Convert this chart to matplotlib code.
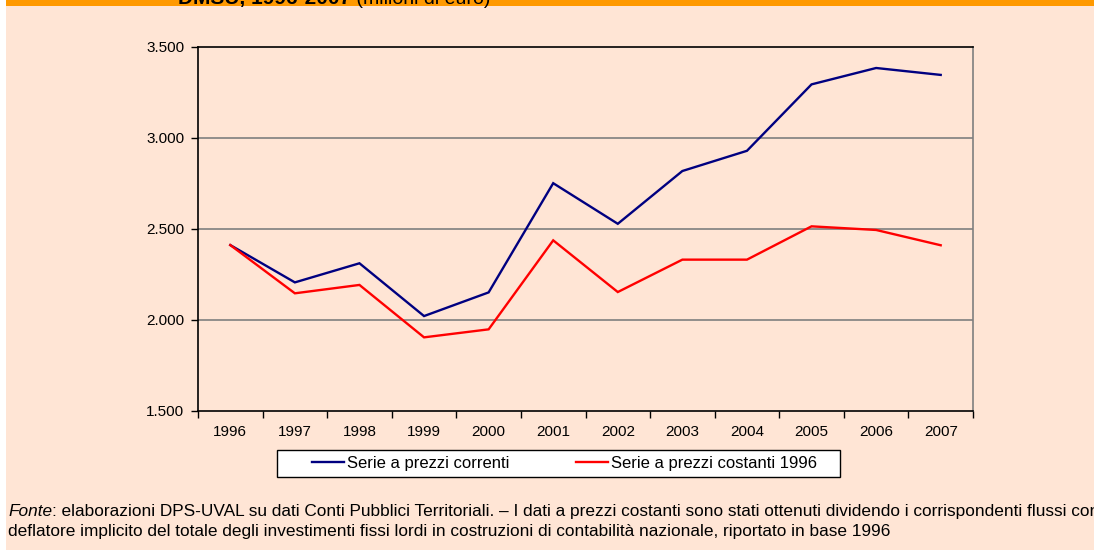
import matplotlib
matplotlib.use("Agg")
import matplotlib.pyplot as plt
from matplotlib.patches import Rectangle
from matplotlib.lines import Line2D

years = ["1996", "1997", "1998", "1999", "2000", "2001", "2002", "2003", "2004", "2005", "2006", "2007"]
correnti = [2410, 2205, 2310, 2020, 2150, 2750, 2527, 2817, 2928, 3293, 3383, 3345]
costanti = [2410, 2145, 2191, 1903, 1947, 2436, 2152, 2330, 2330, 2513, 2493, 2409]
yticks = [1500, 2000, 2500, 3000, 3500]
ytick_labels = ["1.500", "2.000", "2.500", "3.000", "3.500"]
series_labels = ["Serie a prezzi correnti", "Serie a prezzi costanti 1996"]

BG = "#FFE5D5"
ORANGE = "#FF9900"

plt.rcParams['font.family'] = ['Liberation Sans', 'DejaVu Sans']

fig = plt.figure(figsize=(10.94, 5.5), dpi=100)
fig.patch.set_facecolor("white")

W, H = 1094.0, 550.0
fig.patches.append(Rectangle((6 / W, 0), 1 - 6 / W, 1, transform=fig.transFigure,
                             facecolor=BG, edgecolor="none", zorder=-10))
fig.patches.append(Rectangle((6 / W, 1 - 6 / H), 1 - 6 / W, 6 / H, transform=fig.transFigure,
                             facecolor=ORANGE, edgecolor="none", zorder=-9))

ax = fig.add_axes([198 / W, 1 - 410.7 / H, (973 - 198) / W, (410.7 - 46.7) / H])
ax.set_facecolor(BG)

# clipped title at the top
t0 = fig.text(178 / W, 1 - 4 / H, "DMSU, 1996-2007", fontsize=15, fontweight="bold",
              va="baseline", ha="left", color="black")
ax.annotate(" (milioni di euro)", xy=(1, 0), xycoords=t0, xytext=(0, 0),
            textcoords="offset points", fontsize=14, va="bottom", ha="left",
            color="black", annotation_clip=False)

x = list(range(len(years)))
ax.plot(x, correnti, color="#000080", lw=1.7, zorder=3, solid_joinstyle="miter")
ax.plot(x, costanti, color="#FF0000", lw=1.7, zorder=3, solid_joinstyle="miter")

ax.set_xlim(-0.5, len(years) - 0.5)
ax.set_ylim(1500, 3500)
ax.set_yticks(yticks)
ax.set_yticklabels(ytick_labels, fontsize=11)
ax.set_xticks(x)
ax.set_xticklabels(years, fontsize=11)
ax.tick_params(axis="x", which="major", length=0, pad=10)
ax.set_xticks([i - 0.5 for i in range(len(years) + 1)], minor=True)
ax.tick_params(axis="x", which="minor", length=5, width=1, color="black", direction="out")
ax.tick_params(axis="y", length=5, width=1, color="black", direction="out", pad=5)

for yv in yticks[1:-1]:
    ax.axhline(yv, color="#7F7F7F", lw=1.2, zorder=1)

ax.spines["left"].set_color("black")
ax.spines["bottom"].set_color("black")
ax.spines["top"].set_color("black")
ax.spines["right"].set_color("#7F7F7F")
for s in ax.spines.values():
    s.set_linewidth(1.2)

# legend box
fig.patches.append(Rectangle((277 / W, 1 - 477 / H), (840 - 277) / W, 27 / H,
                             transform=fig.transFigure, facecolor="white",
                             edgecolor="black", lw=1.0, zorder=5))
handles = [Line2D([], [], color="#000080", lw=1.7), Line2D([], [], color="#FF0000", lw=1.7)]
leg = fig.legend(handles, series_labels, loc="center left",
                 bbox_to_anchor=(312 / W, 1 - 463.5 / H),
                 ncol=2, fontsize=12, frameon=False, handlelength=1.9, handletextpad=0.2,
                 columnspacing=4.0, borderpad=0, borderaxespad=0)
leg.set_zorder(6)

foot_font = ['Liberation Sans Narrow', 'Liberation Sans', 'DejaVu Sans']
FS = 12.4
f1 = fig.text(8 / W, 1 - 519 / H, "Fonte", fontsize=FS, style="italic", family=foot_font,
              va="bottom", ha="left")
ax.annotate(": elaborazioni DPS-UVAL su dati Conti Pubblici Territoriali. \u2013 I dati a prezzi costanti sono stati ottenuti dividendo i corrispondenti flussi con il",
            xy=(1, 0), xycoords=f1, xytext=(0, 0), textcoords="offset points",
            fontsize=FS, family=foot_font, va="bottom", ha="left", annotation_clip=False)
fig.text(8 / W, 1 - 539 / H,
         "deflatore implicito del totale degli investimenti fissi lordi in costruzioni di contabilit\u00e0 nazionale, riportato in base 1996",
         fontsize=FS, family=foot_font, va="bottom", ha="left")

fig.savefig("out.png", dpi=100, facecolor=fig.get_facecolor())
